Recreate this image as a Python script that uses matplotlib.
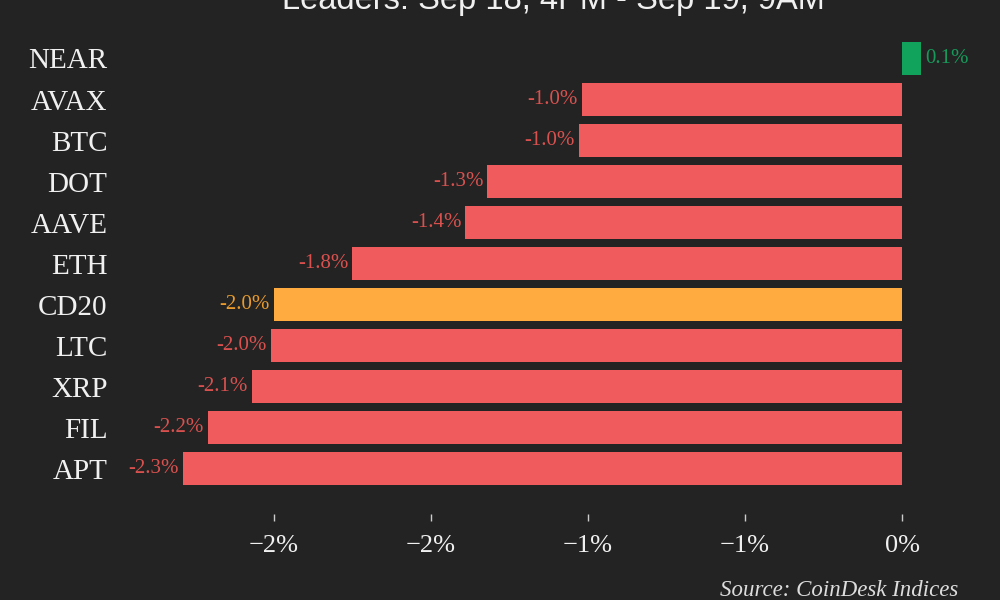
import matplotlib
matplotlib.use('Agg')
import matplotlib.pyplot as plt

# CoinDesk 20 leaders, % change
coins = ["NEAR", "AVAX", "BTC", "DOT", "AAVE", "ETH", "CD20", "LTC", "XRP", "FIL", "APT"]
changes = [0.06, -1.02, -1.03, -1.32, -1.39, -1.75, -2.00, -2.01, -2.07, -2.21, -2.29]
tick_vals = [-2.0, -1.5, -1.0, -0.5, 0.0]
tick_labels = ["\u22122%", "\u22122%", "\u22121%", "\u22121%", "0%"]
title = "Leaders: Sep 18, 4PM - Sep 19, 9AM"
source = "Source: CoinDesk Indices"

bg = "#232323"
red, red_txt = "#f05c5e", "#d9514f"
orange, orange_txt = "#ffab40", "#e89a2c"
green, green_txt = "#11a35b", "#17995a"

def colors_for(name, v):
    if name == "CD20":
        return orange, orange_txt
    if v >= 0:
        return green, green_txt
    return red, red_txt

fig = plt.figure(figsize=(10, 6), dpi=100, facecolor=bg)
ax = fig.add_axes([0.12, 0.1433, 0.87, 0.7934])
ax.set_facecolor(bg)

ypos = list(range(len(coins)))
bar_cols = [colors_for(c, v)[0] for c, v in zip(coins, changes)]
ax.barh(ypos, changes, height=0.8, color=bar_cols)

for y, c, v in zip(ypos, coins, changes):
    tc = colors_for(c, v)[1]
    if v < 0:
        ax.annotate(f"{v:.1f}%", (v, y), xytext=(-3, 0), textcoords="offset points",
                    ha="right", va="center", color=tc, fontsize=15, family="Liberation Serif")
    else:
        ax.annotate(f"{v:.1f}%", (v, y), xytext=(3, 0), textcoords="offset points",
                    ha="left", va="center", color=tc, fontsize=15, family="Liberation Serif")

ax.set_xlim(-2.49, 0.28)
ax.set_ylim(11.1, -0.5)
ax.set_yticks(ypos)
ax.set_yticklabels(coins, family="Liberation Serif", fontsize=21, color="#f0f0f0")
ax.set_xticks(tick_vals)
ax.set_xticklabels(tick_labels, family="Liberation Serif", fontsize=19, color="#f0f0f0")
ax.tick_params(axis="y", length=0, pad=9)
ax.tick_params(axis="x", length=5, width=1, color="#cccccc", pad=10)
for s in ax.spines.values():
    s.set_visible(False)

# title runs off the top edge, as in the original
fig.text(0.553, 0.985, title, ha="center", va="baseline", fontsize=23.5,
         color="#f0f0f0", family="Liberation Sans")
fig.text(0.958, 0.016, source, ha="right", va="center", fontsize=16.5,
         color="#dddddd", family="Liberation Serif", style="italic")

fig.savefig("out.png", dpi=100, facecolor=bg)
